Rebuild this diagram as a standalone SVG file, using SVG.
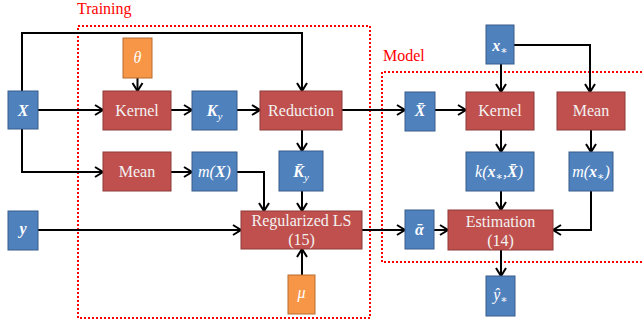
<svg xmlns="http://www.w3.org/2000/svg" width="642" height="325" viewBox="0 0 642 325" font-family="'Liberation Serif', 'DejaVu Serif', serif">
<defs>
<style>
.r{fill:#C0504D;stroke:#8C3A38;stroke-width:1}
.b{fill:#4F81BD;stroke:#385D8A;stroke-width:1}
.o{fill:#F79646;stroke:#B66D31;stroke-width:1}
.t{font-size:16px;fill:#F2F2F2;text-anchor:middle}
.m{font-size:16px;fill:#fff;text-anchor:middle;font-style:italic}
.bi{font-weight:bold}
.s{font-size:11px}
.c{fill:none;stroke:#000;stroke-width:2;marker-end:url(#a)}
.d{fill:none;stroke:#F00;stroke-width:2;stroke-dasharray:2 2}
.lbl{font-size:16px;fill:#F00}
</style>
<marker id="a" markerUnits="userSpaceOnUse" markerWidth="12" markerHeight="14" refX="9" refY="6" orient="auto" viewBox="0 0 12 12">
<path d="M1,1 L9,6 L1,11" fill="none" stroke="#000" stroke-width="2"/>
</marker>
</defs>
<rect width="642" height="325" fill="#fff"/>

<g id="regions">
<rect class="d" x="78" y="26" width="292" height="292"/>
<path class="d" d="M642,72 H382 V262 H642"/>
<text class="lbl" x="77" y="14">Training</text>
<text class="lbl" x="383" y="61">Model</text>
</g>

<g id="connectors">
<line class="c" x1="38" y1="110" x2="103" y2="110"/>
<line class="c" x1="171" y1="110" x2="192" y2="110"/>
<line class="c" x1="237" y1="110" x2="260" y2="110"/>
<polyline class="c" points="22,91 22,33 302,33 302,91"/>
<line class="c" x1="137.5" y1="78" x2="137.5" y2="91"/>
<polyline class="c" points="22,129 22,172 103,172"/>
<line class="c" x1="171" y1="172" x2="192" y2="172"/>
<polyline class="c" points="237,172 264,172 264,211"/>
<line class="c" x1="302" y1="130" x2="302" y2="151"/>
<line class="c" x1="302" y1="191" x2="302" y2="211"/>
<line class="c" x1="38" y1="230" x2="241" y2="230"/>
<line class="c" x1="302" y1="275" x2="302" y2="249"/>
<line class="c" x1="342" y1="110" x2="405" y2="110"/>
<line class="c" x1="435" y1="110" x2="466" y2="110"/>
<line class="c" x1="362" y1="230" x2="405" y2="230"/>
<line class="c" x1="434" y1="230" x2="448" y2="230"/>
<line class="c" x1="501" y1="64" x2="501" y2="92"/>
<polyline class="c" points="514,45 590,45 590,92"/>
<line class="c" x1="501" y1="130" x2="501" y2="152"/>
<line class="c" x1="591" y1="130" x2="591" y2="152"/>
<line class="c" x1="501" y1="191" x2="501" y2="210"/>
<polyline class="c" points="591,191 591,230 553,230"/>
<line class="c" x1="501" y1="250" x2="501" y2="276"/>
</g>

<g id="X"><rect class="b" x="8" y="91" width="30" height="38"/><text class="m bi" x="23" y="116">X</text></g>
<g id="theta"><rect class="o" x="123" y="38" width="29" height="40"/><text class="m" x="137.5" y="63">θ</text></g>
<g id="kernel-train"><rect class="r" x="103" y="91" width="68" height="39"/><text class="t" x="137" y="116">Kernel</text></g>
<g id="Ky"><rect class="b" x="192" y="91" width="45" height="39"/><text class="m" x="214.5" y="116"><tspan class="bi">K</tspan><tspan class="s" dy="4">y</tspan></text></g>
<g id="reduction"><rect class="r" x="260" y="91" width="82" height="39"/><text class="t" x="301" y="116">Reduction</text></g>
<g id="mean-train"><rect class="r" x="103" y="152" width="68" height="39"/><text class="t" x="137" y="177">Mean</text></g>
<g id="mX"><rect class="b" x="192" y="152" width="45" height="39"/><text class="m" x="214.5" y="177">m(<tspan class="bi">X</tspan>)</text></g>
<g id="Kbar"><rect class="b" x="279" y="151" width="44" height="40"/><text class="m" x="301" y="177"><tspan class="bi">K̄</tspan><tspan class="s" dy="4">y</tspan></text></g>
<g id="y"><rect class="b" x="8" y="211" width="30" height="39"/><text class="m bi" x="23" y="234">y</text></g>
<g id="rls"><rect class="r" x="241" y="211" width="121" height="38"/><text class="t" x="301.5" y="226">Regularized LS</text><text class="t" x="301.5" y="245">(15)</text></g>
<g id="mu"><rect class="o" x="288" y="275" width="27" height="39"/><text class="m" x="301.5" y="298">μ</text></g>
<g id="Xbar"><rect class="b" x="405" y="92" width="30" height="39"/><text class="m bi" x="420" y="116">X̄</text></g>
<g id="xstar"><rect class="b" x="486" y="25" width="28" height="39"/><text class="m" x="500" y="51"><tspan class="bi">x</tspan><tspan class="s" dy="3">∗</tspan></text></g>
<g id="kernel-model"><rect class="r" x="466" y="92" width="68" height="38"/><text class="t" x="500" y="116">Kernel</text></g>
<g id="mean-model"><rect class="r" x="557" y="92" width="68" height="38"/><text class="t" x="591" y="116">Mean</text></g>
<g id="kx"><rect class="b" x="466" y="152" width="68" height="39"/><text class="m" x="499" y="177">k(<tspan class="bi">x</tspan><tspan class="s" dy="3">∗</tspan><tspan dy="-3">,</tspan><tspan class="bi">X̄</tspan>)</text></g>
<g id="mxs"><rect class="b" x="569" y="152" width="44" height="39"/><text class="m" x="591" y="177">m(<tspan class="bi">x</tspan><tspan class="s" dy="3">∗</tspan><tspan dy="-3">)</tspan></text></g>
<g id="alpha"><rect class="b" x="405" y="210" width="29" height="39"/><text class="m bi" x="419.5" y="235">ᾱ</text></g>
<g id="estimation"><rect class="r" x="448" y="210" width="105" height="40"/><text class="t" x="500.5" y="227">Estimation</text><text class="t" x="500.5" y="246">(14)</text></g>
<g id="yhat"><rect class="b" x="486" y="276" width="29" height="40"/><text class="m" x="500.5" y="300">ŷ<tspan class="s" dy="3">∗</tspan></text></g>
</svg>
